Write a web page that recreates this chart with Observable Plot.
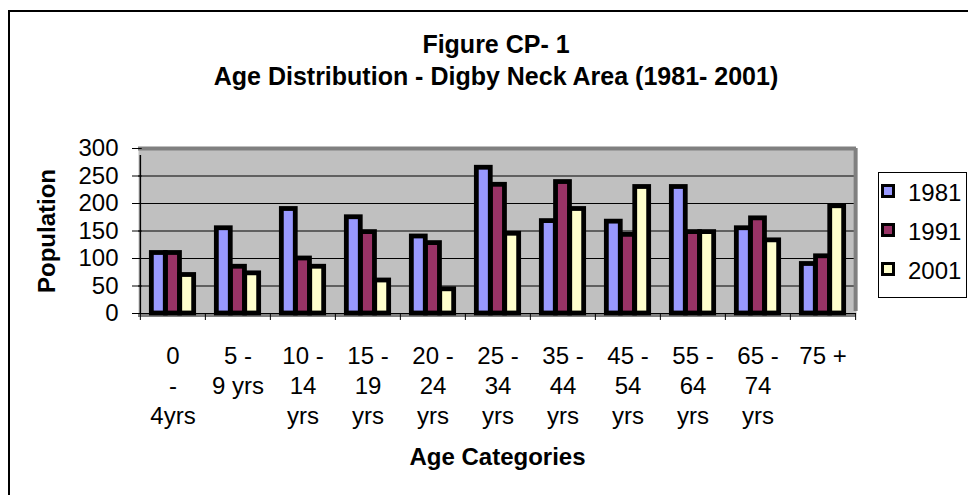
<!DOCTYPE html>
<html>
<head>
<meta charset="utf-8">
<script src="https://cdn.jsdelivr.net/npm/d3@7"></script>
<script src="https://cdn.jsdelivr.net/npm/@observablehq/plot@0.6"></script>
<style>
  html, body { margin: 0; padding: 0; background: #fff; overflow: hidden; }
  body { font-family: "Liberation Sans", Arial, sans-serif; color: #000; }
  #wrap { position: relative; width: 968px; height: 495px; overflow: hidden; }
  #outer { position: absolute; left: 8px; top: 10px; width: 1000px; height: 600px; border: 2px solid #000; box-sizing: border-box; }
  .title { position: absolute; left: 0; width: 992px; text-align: center; font-weight: bold; font-size: 25px; line-height: 25px; white-space: nowrap; }
  #chart { position: absolute; left: 0; top: 100px; }
  #ylab { position: absolute; left: 47px; top: 231px; transform: translate(-50%, -50%) rotate(-90deg); font-weight: bold; font-size: 24px; line-height: 24px; white-space: nowrap; }
  #legend { position: absolute; left: 878px; top: 172px; width: 89px; height: 126px; border: 1px solid #000; box-sizing: border-box; }
  .item { position: absolute; left: 2px; height: 24px; display: flex; align-items: center; font-size: 24px; line-height: 24px; }
  .sw { width: 8px; height: 8px; border: 3px solid #000; margin-right: 13px; margin-top: -4px; }
</style>
</head>
<body>
<div id="wrap">
  <div id="outer"></div>
  <div class="title" style="top:32px">Figure CP- 1</div>
  <div class="title" style="top:64px">Age Distribution - Digby Neck Area (1981- 2001)</div>
  <div id="chart"></div>
  <div id="ylab"></div>
  <div id="legend"></div>
</div>
<script>
// ---- data ----
const categories = ["0 - 4yrs", "5 - 9 yrs", "10 - 14 yrs", "15 - 19 yrs", "20 - 24 yrs", "25 - 34 yrs", "35 - 44 yrs", "45 - 54 yrs", "55 - 64 yrs", "65 - 74 yrs", "75 +"];
const tickLabels = ["0\n-\n4yrs", "5 -\n9 yrs", "10 -\n14\nyrs", "15 -\n19\nyrs", "20 -\n24\nyrs", "25 -\n34\nyrs", "35 -\n44\nyrs", "45 -\n54\nyrs", "55 -\n64\nyrs", "65 -\n74\nyrs", "75 +"];
const years = ["1981", "1991", "2001"];
const values1981 = [110, 155, 190, 175, 140, 265, 168, 167, 230, 155, 90];
const values1991 = [110, 85, 100, 148, 128, 234, 239, 143, 148, 173, 104];
const values2001 = [70, 73, 85, 60, 44, 145, 190, 230, 148, 133, 195];
const colors = ["#9999FF", "#993366", "#FFFFCC"];
const yTicks = [0, 50, 100, 150, 200, 250, 300];
const gridValues = [50, 100, 150, 200, 250];
const yTitle = "Population";
const xTitle = "Age Categories";

const series = [values1981, values1991, values2001];
const rows = categories.map((c, i) => ({age: c, label: tickLabels[i], i}));

// ---- layout ----
const W = 968, H = 395;
const mL = 138, mR = 112, mT = 48, mB = 182;
const bw = (W - mL - mR) / categories.length;
const barW = 14.2;
const inset = (bw - barW) / 2;
const firstCat = categories[0];
const lastCat = categories[categories.length - 1];

const barMarks = series.map((vals, k) =>
  Plot.barY(rows, {
    x: "age", y: d => vals[d.i], fill: colors[k], stroke: "#000", strokeWidth: 4.8,
    strokeLinejoin: "miter", insetLeft: inset, insetRight: inset, dx: (k - 1) * barW
  })
);

const chart = Plot.plot({
  width: W, height: H,
  marginLeft: mL, marginRight: mR, marginTop: mT, marginBottom: mB,
  style: {fontFamily: "'Liberation Sans', Arial, sans-serif", fontSize: "24px", background: "transparent", overflow: "visible", color: "#000"},
  x: {type: "band", domain: categories, padding: 0, axis: null},
  y: {domain: [0, 300], axis: null},
  marks: [
    Plot.frame({fill: "#C0C0C0", stroke: null}),
    Plot.ruleY(gridValues, {stroke: "#000", strokeWidth: 1}),
    Plot.ruleY([0], {stroke: "#808080", strokeWidth: 3, dy: 2}),
    Plot.ruleY([300], {stroke: "#808080", strokeWidth: 4}),
    Plot.ruleX([lastCat], {x: d => d, dx: bw / 2, y1: 0, y2: 300, stroke: "#808080", strokeWidth: 4, insetTop: -2}),
    ...barMarks,
    Plot.ruleY([0], {stroke: "#000", strokeWidth: 1}),
    // category boundary ticks
    Plot.ruleX(categories, {x: d => d, dx: -bw / 2, y1: 0, y2: 0, insetBottom: -7, stroke: "#000", strokeWidth: 1}),
    Plot.ruleX([lastCat], {x: d => d, dx: bw / 2, y1: 0, y2: 0, insetBottom: -7, stroke: "#000", strokeWidth: 1}),
    // y axis line
    Plot.ruleX([firstCat], {x: d => d, dx: -bw / 2, y1: 0, y2: 300, insetBottom: -7, stroke: "#000", strokeWidth: 1.5}),
    // y axis tick marks crossing the axis
    Plot.tickY(yTicks, {y: d => d, x: () => firstCat, insetLeft: -8, insetRight: bw - 2, stroke: "#000", strokeWidth: 1}),
    Plot.axisY({ticks: yTicks, tickSize: 0, tickPadding: 20, fontSize: 24, label: null}),
    Plot.text(rows, {x: "age", text: "label", frameAnchor: "bottom", lineAnchor: "top", lineHeight: 1.25, dy: 29, fontSize: 24, fill: "#000"}),
    Plot.text([xTitle], {text: d => d, frameAnchor: "bottom", dy: 151, fontWeight: "bold", fontSize: 24, fill: "#000"})
  ]
});
document.getElementById("chart").appendChild(chart);
document.getElementById("ylab").textContent = yTitle;

// legend
const legend = document.getElementById("legend");
const rowTops = [8, 47, 86];
years.forEach((y, k) => {
  const it = document.createElement("div");
  it.className = "item";
  it.style.top = rowTops[k] + "px";
  const sw = document.createElement("span");
  sw.className = "sw";
  sw.style.background = colors[k];
  it.appendChild(sw);
  it.appendChild(document.createTextNode(y));
  legend.appendChild(it);
});
</script>
</body>
</html>
